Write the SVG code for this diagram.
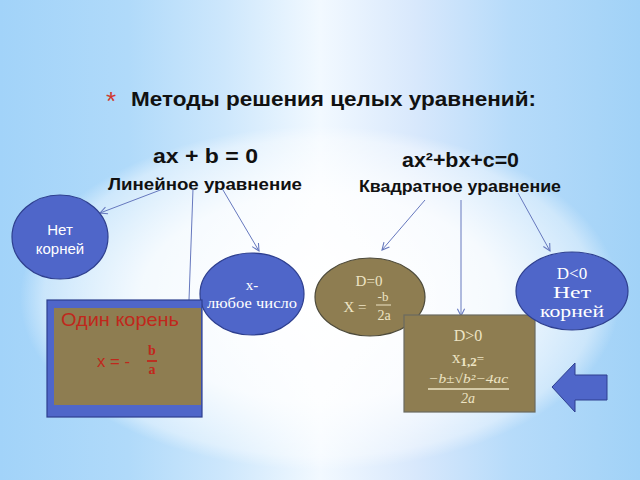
<svg xmlns="http://www.w3.org/2000/svg" width="640" height="480" viewBox="0 0 640 480">
<defs>
<linearGradient id="bg" x1="0" y1="0" x2="1" y2="0">
<stop offset="0" stop-color="#A2D3F9"/>
<stop offset="0.2" stop-color="#B0DAFA"/>
<stop offset="0.35" stop-color="#CDE7FC"/>
<stop offset="0.5" stop-color="#F2F9FF"/>
<stop offset="0.65" stop-color="#D8E8FC"/>
<stop offset="0.8" stop-color="#B6DBFA"/>
<stop offset="1" stop-color="#A1D2F7"/>
</linearGradient>
<radialGradient id="glow" cx="0.5" cy="0.5" r="0.5">
<stop offset="0" stop-color="#FFFFFF" stop-opacity="1"/>
<stop offset="0.6" stop-color="#FFFFFF" stop-opacity="0.85"/>
<stop offset="0.92" stop-color="#FFFFFF" stop-opacity="0.4"/>
<stop offset="1" stop-color="#FFFFFF" stop-opacity="0"/>
</radialGradient>
<marker id="arr" viewBox="0 0 10 10" refX="9" refY="5" markerWidth="9" markerHeight="9" orient="auto" markerUnits="userSpaceOnUse">
<path d="M1,1 L9,5 L1,9" fill="none" stroke="#6678BE" stroke-width="1.2"/>
</marker>
</defs>
<style>
.h{font-family:"Liberation Sans",Arial,sans-serif;font-weight:bold;fill:#111;}
.blue{fill:#4F66C9;stroke:#2E3F8F;stroke-width:1.2;}
.brown{fill:#8E7D51;stroke:#4D4A3A;stroke-width:1.2;}
.conn{stroke:#6678BE;stroke-width:1;fill:none;}
.wsans{font-family:"Liberation Sans",Arial,sans-serif;fill:#fff;font-size:15px;text-anchor:middle;}
.wser{font-family:"Liberation Serif","Times New Roman",serif;fill:#fff;text-anchor:middle;}
.cream{font-family:"Liberation Serif","Times New Roman",serif;fill:#EDE4C4;text-anchor:middle;}
.red{font-family:"Liberation Sans",Arial,sans-serif;fill:#C0281C;}
</style>
<rect x="0" y="0" width="640" height="480" fill="url(#bg)"/>
<ellipse cx="320" cy="298" rx="300" ry="172" fill="url(#glow)"/>

<g id="title">
<text x="106" y="110" font-family="Liberation Sans,Arial,sans-serif" font-size="26" fill="#D03A30">*</text>
<text x="131" y="106" class="h" font-size="20" textLength="405" lengthAdjust="spacingAndGlyphs">Методы решения целых уравнений:</text>
</g>
<g id="linear">
<text x="153" y="163" class="h" font-size="20" textLength="105" lengthAdjust="spacingAndGlyphs">ax + b = 0</text>
<text x="108" y="190" class="h" font-size="16" textLength="194" lengthAdjust="spacingAndGlyphs">Линейное уравнение</text>
</g>
<g id="quadratic">
<text x="402" y="167" class="h" font-size="20" textLength="117" lengthAdjust="spacingAndGlyphs">ax²+bx+c=0</text>
<text x="359" y="192" class="h" font-size="16" textLength="202" lengthAdjust="spacingAndGlyphs">Квадратное уравнение</text>
</g>

<g id="connectors">
<line class="conn" x1="163" y1="189" x2="100" y2="213" marker-end="url(#arr)"/>
<line class="conn" x1="193" y1="189" x2="189" y2="300"/>
<line class="conn" x1="223" y1="190" x2="259" y2="251" marker-end="url(#arr)"/>
<line class="conn" x1="425" y1="200" x2="382" y2="250" marker-end="url(#arr)"/>
<line class="conn" x1="461" y1="200" x2="461" y2="316" marker-end="url(#arr)"/>
<line class="conn" x1="518" y1="193" x2="550" y2="251" marker-end="url(#arr)"/>
</g>

<g id="no-roots-linear">
<ellipse class="blue" cx="60" cy="237" rx="48" ry="42"/>
<text class="wsans" x="60" y="235">Нет</text>
<text class="wsans" x="60" y="254">корней</text>
</g>

<g id="any-number">
<ellipse class="blue" cx="252" cy="294" rx="52" ry="41"/>
<text class="wser" x="252" y="290" font-size="15">x-</text>
<text class="wser" x="252" y="308" font-size="15" textLength="90" lengthAdjust="spacingAndGlyphs">любое число</text>
</g>

<g id="one-root">
<rect x="47" y="300" width="155" height="117" fill="#4F66C9" stroke="#2E3F8F" stroke-width="1.2"/>
<rect x="54" y="308" width="147" height="97" fill="#8E7D51"/>
<text class="red" x="61" y="326" font-size="19" textLength="118" lengthAdjust="spacingAndGlyphs">Один корень</text>
<text class="red" x="97" y="367" font-size="17" textLength="33" lengthAdjust="spacingAndGlyphs">x = -</text>
<text class="red" x="152" y="355" font-size="14" font-weight="bold" text-anchor="middle" style="font-family:'Liberation Serif',serif">b</text>
<line x1="147" y1="361" x2="157" y2="361" stroke="#C0281C" stroke-width="1.8"/>
<text class="red" x="152" y="374" font-size="14" font-weight="bold" text-anchor="middle" style="font-family:'Liberation Serif',serif">a</text>
</g>

<g id="d-zero">
<ellipse class="brown" cx="370" cy="297" rx="55" ry="39"/>
<text class="cream" x="369" y="286" font-size="15">D=0</text>
<text class="cream" x="355" y="312" font-size="15">X =</text>
<text class="cream" x="383" y="301" font-size="13">-b</text>
<line x1="376" y1="305" x2="391" y2="305" stroke="#EDE4C4" stroke-width="1"/>
<text class="cream" x="384" y="320" font-size="14">2a</text>
</g>

<g id="d-positive">
<rect class="brown" x="404" y="315" width="131" height="97" style="stroke:#6A6A60"/>
<text class="cream" x="468" y="341" font-size="16">D&gt;0</text>
<text class="cream" x="468" y="363" font-size="17">x<tspan font-size="13" dy="3" font-weight="bold">1,2</tspan><tspan font-size="13" dy="-3">=</tspan></text>
<text class="cream" x="468" y="383" font-size="13" font-style="italic" textLength="80" lengthAdjust="spacingAndGlyphs">−b±√b²−4ac</text>
<line x1="428" y1="389" x2="509" y2="389" stroke="#EDE4C4" stroke-width="1.3"/>
<text class="cream" x="468" y="403" font-size="14" font-style="italic">2a</text>
</g>

<g id="no-roots-quadratic">
<ellipse class="blue" cx="572" cy="291" rx="56" ry="39"/>
<text class="wser" x="572" y="279" font-size="17">D&lt;0</text>
<text class="wser" x="572" y="298" font-size="17" textLength="38" lengthAdjust="spacingAndGlyphs">Нет</text>
<text class="wser" x="572" y="317" font-size="17" textLength="64" lengthAdjust="spacingAndGlyphs">корней</text>
</g>

<g id="back-arrow">
<polygon points="552,387 575,363 575,375 607,375 607,400 575,400 575,412" fill="#4F66C9" stroke="#2E3F8F" stroke-width="1"/>
</g>
</svg>
